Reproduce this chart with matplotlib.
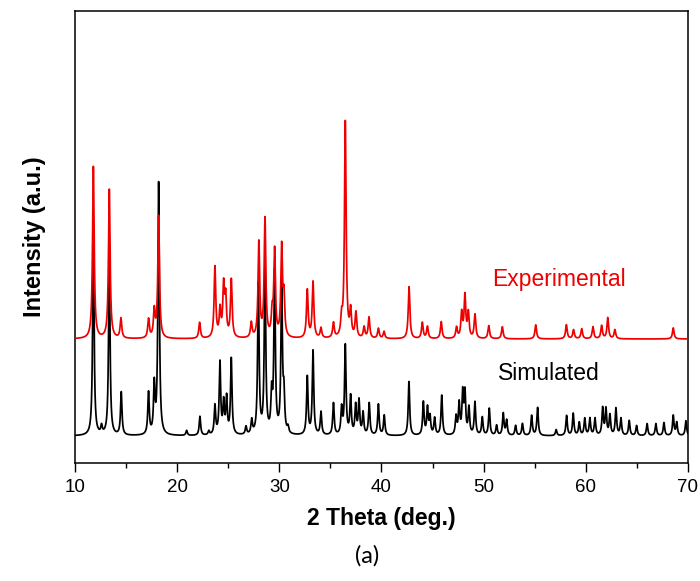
import numpy as np
import matplotlib
matplotlib.use("Agg")
import matplotlib.pyplot as plt
from matplotlib.ticker import MultipleLocator

plt.rcParams['font.family'] = ['Liberation Sans', 'DejaVu Sans']

# peak list of the simulated pattern: 2 theta (deg) and intensity (a.u.)
sim_pos = [11.80, 12.60, 13.36, 14.53, 17.20, 17.76, 18.19, 20.93, 22.23, 23.10,
           23.70, 24.19, 24.55, 24.84, 25.30, 26.74, 27.30, 27.95, 28.60, 29.25,
           29.54, 30.23, 30.45, 30.85, 32.74, 33.30, 34.08, 35.30, 36.10, 36.46,
           36.98, 37.47, 37.80, 38.20, 38.80, 39.70, 40.27, 42.69, 44.10, 44.50,
           44.75, 45.20, 45.90, 47.30, 47.60, 47.95, 48.17, 48.56, 49.15, 49.87,
           50.55, 51.27, 51.92, 52.25, 53.13, 53.80, 54.70, 55.28, 57.10, 58.12,
           58.77, 59.36, 59.90, 60.40, 60.90, 61.65, 61.97, 62.36, 62.95, 63.44,
           64.25, 64.97, 66.00, 66.86, 67.65, 68.56, 68.90, 69.80]
sim_int = [200, 8, 180, 43, 42, 48, 252, 5, 19, 4,
           29, 72, 31, 36, 76, 8, 14, 150, 170, 37,
           160, 150, 36, 6, 58, 84, 23, 32, 26, 89,
           38, 29, 34, 22, 32, 31, 20, 54, 33, 27,
           18, 17, 40, 18, 31, 41, 41, 27, 33, 18,
           27, 10, 22, 15, 10, 12, 20, 28, 6, 20,
           22, 13, 17, 17, 17, 27, 26, 20, 27, 17,
           15, 10, 12, 12, 13, 20, 13, 15]

# peak list of the measured pattern
exp_pos = [11.80, 13.36, 14.50, 17.20, 17.76, 18.19, 22.20, 23.70, 24.20, 24.55,
           24.75, 25.30, 27.26, 28.00, 28.60, 29.30, 29.54, 30.23, 30.45, 32.74,
           33.30, 34.08, 35.30, 36.10, 36.46, 36.98, 37.50, 38.30, 38.78, 39.70,
           40.25, 42.70, 44.00, 44.50, 45.85, 47.35, 47.85, 48.17, 48.50, 49.15,
           50.50, 51.83, 55.10, 58.10, 58.80, 59.60, 60.70, 61.55, 62.15, 62.85,
           68.56]
exp_int = [172, 149, 20, 19, 27, 122, 16, 71, 27, 50,
           38, 58, 15, 95, 118, 22, 86, 89, 38, 48,
           56, 10, 15, 17, 216, 26, 25, 11, 21, 10,
           7, 52, 16, 12, 17, 11, 25, 42, 25, 24,
           13, 12, 14, 14, 9, 10, 12, 13, 21, 9,
           11]
exp_offset = 97


def pattern(two_theta, pos, inten, hwhm):
    y = np.zeros_like(two_theta)
    for p, h in zip(pos, inten):
        y += h * hwhm**2 / ((two_theta - p)**2 + hwhm**2)
    return y


tt = np.arange(10, 70.001, 0.005)
sim = pattern(tt, sim_pos, sim_int, 0.085)
exp = pattern(tt, exp_pos, exp_int, 0.095) + exp_offset

fig = plt.figure(figsize=(7, 5.81), dpi=100)
ax = fig.add_axes([0.1071, 0.2031, 0.8757, 0.7780])

ax.plot(tt, sim, color='black', lw=1.25, zorder=2)
ax.plot(tt, exp, color='#ee0000', lw=1.25, zorder=3)

ax.text(57.4, 156, 'Experimental', color='#ee0000', fontsize=16.5,
        ha='center', va='center')
ax.text(56.4, 62, 'Simulated', color='black', fontsize=16.5,
        ha='center', va='center')

ax.set_xlim(10, 70)
ax.set_ylim(-27, 425)
ax.xaxis.set_major_locator(MultipleLocator(10))
ax.xaxis.set_minor_locator(MultipleLocator(5))
ax.tick_params(axis='x', which='major', direction='out', length=6.5, width=1.0,
               labelsize=13.5, pad=5, top=False)
ax.tick_params(axis='x', which='minor', direction='out', length=3.5, width=1.0,
               top=False)
ax.set_yticks([])
for sp in ax.spines.values():
    sp.set_linewidth(1.1)

ax.set_xlabel('2 Theta (deg.)', fontsize=16.5, fontweight='bold', labelpad=8)
ax.set_ylabel('Intensity (a.u.)', fontsize=17, fontweight='bold', labelpad=21)

fig.text(0.524, 0.043, '(a)', fontsize=17, family=['Lato', 'DejaVu Sans'],
         ha='center', va='center')

fig.savefig('out.png', dpi=100, facecolor='white')
